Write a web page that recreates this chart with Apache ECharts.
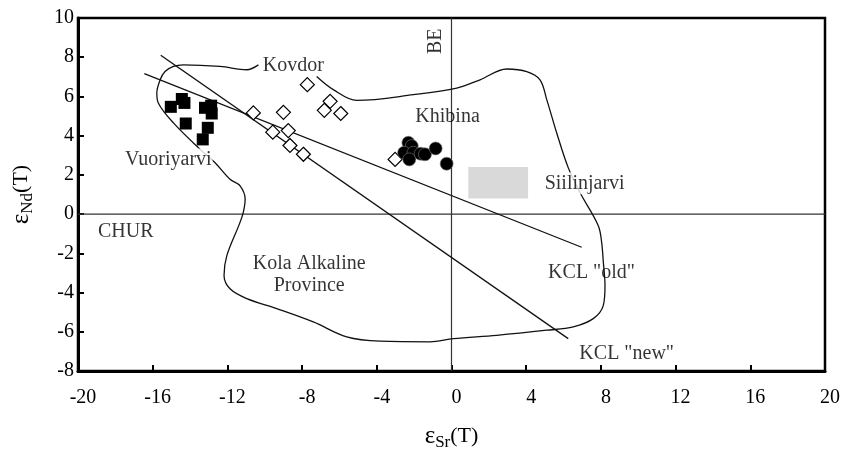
<!DOCTYPE html>
<html><head><meta charset="utf-8">
<script src="https://cdn.jsdelivr.net/npm/echarts@6/dist/echarts.min.js"></script>
<style>html,body{margin:0;padding:0;background:#fff}#c{width:843px;height:456px}</style>
</head><body><div id="c"></div>
<script>
// Vuoriyarvi (filled squares)
const vuorX = [-15.03, -14.44, -14.30, -14.23, -13.20, -12.87, -12.84, -13.05, -13.32];
const vuorY = [5.47, 5.87, 5.67, 4.62, 5.42, 5.53, 5.13, 4.40, 3.81];
// Kovdor (open diamonds)
const kovX = [-10.61, -9.00, -9.57, -8.74, -8.65, -7.93, -7.72, -6.50, -6.81, -5.93, -3.02];
const kovY = [5.16, 5.19, 4.18, 4.26, 3.50, 3.05, 6.60, 5.75, 5.29, 5.13, 2.79];
// Khibina (filled circles)
const khiX = [-2.31, -2.13, -2.54, -2.04, -2.26, -1.65, -1.42, -0.85, -0.26];
const khiY = [3.64, 3.47, 3.13, 3.13, 2.79, 3.08, 3.05, 3.35, 2.57];
// KCL regression lines
const kclOldX = [-16.45, 6.97];
const kclOldY = [7.16, -1.69];
const kclNewX = [-15.57, 6.25];
const kclNewY = [8.10, -6.35];
// Reference lines
const churX = [-20, 20];
const churY = [0, 0];
const beX = [0, 0];
const beY = [-8, 10];
// Siilinjarvi field
const siilX = [0.9, 4.1];
const siilY = [0.8, 2.4];
// Kola Alkaline Province outline
const kolaX = [-7.22, -6.33, -5.07, -2.04, 0.28, 1.53, 2.96, 4.03, 4.74, 5.10, 5.63, 6.25, 6.88, 7.86, 8.04, 8.13, 8.22, 8.13, 7.59, 6.52, 5.10, 2.42, 0.10, -1.15, -3.83, -5.61, -7.40, -9.36, -10.96, -11.86, -12.18, -12.03, -11.36, -11.15, -11.05, -11.32, -11.86, -12.66, -13.46, -14.89, -15.70, -15.78, -15.60, -15.34, -14.89, -14.36, -12.39, -10.96, -10.34];
const kolaY = [7.02, 6.35, 5.80, 6.09, 6.43, 6.85, 7.40, 7.27, 6.85, 5.84, 4.15, 2.37, 1.10, -0.59, -1.44, -2.45, -3.64, -4.65, -5.33, -5.75, -5.92, -6.18, -6.35, -6.51, -6.48, -6.26, -5.50, -4.82, -4.31, -3.81, -3.13, -2.12, -0.51, 0.09, 0.76, 1.44, 1.78, 2.62, 3.30, 4.65, 5.67, 6.18, 6.85, 7.27, 7.53, 7.61, 7.53, 7.36, 7.61];
// Text labels
const labelNames = ['Kovdor', 'Khibina', 'Vuoriyarvi', 'Siilinjarvi', 'CHUR', 'Kola Alkaline\nProvince', 'KCL "old"', 'KCL "new"', 'BE'];
const labelX = [-8.47, -0.21, -15.16, 7.13, -17.44, -7.62, 7.5, 9.38, -0.83];
const labelY = [7.59, 4.95, 2.79, 1.57, -0.89, -3.10, -3.0, -7.11, 8.81];
const xMin = -20, xMax = 20, xStep = 4;
const yMin = -8, yMax = 10, yStep = 2;

const pairs = (xs, ys) => xs.map((x, i) => [x, ys[i]]);
const FONT = '"Liberation Serif", "DejaVu Serif", serif';

const chart = echarts.init(document.getElementById('c'), null, {renderer: 'canvas'});
const axisTitleRich = {
  e: {fontFamily: FONT, fontSize: 25, color: '#000', lineHeight: 30, verticalAlign: 'middle'},
  s: {fontFamily: FONT, fontSize: 17, color: '#000', lineHeight: 17, verticalAlign: 'bottom'},
  t: {fontFamily: FONT, fontSize: 22, color: '#000', lineHeight: 30, verticalAlign: 'middle'}
};

const labelItems = labelNames.map((n, i) => {
  const item = {name: n, value: [labelX[i], labelY[i]]};
  if (n === 'BE') item.label = {rotate: 90};
  if (n === 'Vuoriyarvi' || n === 'Siilinjarvi') item.label = {backgroundColor: '#fff', padding: [0, 1]};
  return item;
});

chart.setOption({
  animation: false,
  backgroundColor: '#fff',
  grid: {left: 78, right: 18, top: 18, bottom: 83, show: true, borderColor: '#000', borderWidth: 2.5, backgroundColor: 'transparent'},
  xAxis: {
    type: 'value', min: xMin, max: xMax, interval: xStep,
    axisLine: {show: true, onZero: false, lineStyle: {color: '#000', width: 3}},
    axisTick: {show: true, inside: true, length: 6, lineStyle: {color: '#000', width: 2}},
    axisLabel: {color: '#000', fontFamily: FONT, fontSize: 20, margin: 17, padding: [0, 0, 0, 10]},
    splitLine: {show: false},
    name: '{e|ε}{s|Sr}{t|(T)}', nameLocation: 'middle', nameGap: 50,
    nameTextStyle: {rich: axisTitleRich}
  },
  yAxis: {
    type: 'value', min: yMin, max: yMax, interval: yStep,
    axisLine: {show: true, onZero: false, lineStyle: {color: '#000', width: 3}},
    axisTick: {show: true, inside: true, length: 6, lineStyle: {color: '#000', width: 2}},
    axisLabel: {color: '#000', fontFamily: FONT, fontSize: 20, margin: 4},
    splitLine: {show: false},
    name: '{e|ε}{s|Nd}{t|(T)}', nameLocation: 'middle', nameGap: 42, nameRotate: 90,
    nameTextStyle: {rich: axisTitleRich}
  },
  series: [
    {type: 'line', name: 'CHUR', data: pairs(churX, churY), showSymbol: false, silent: true,
     lineStyle: {color: '#333', width: 1.2}, z: 1,
     markArea: {silent: true, itemStyle: {color: '#d9d9d9'},
       data: [[{coord: [siilX[0], siilY[0]]}, {coord: [siilX[1], siilY[1]]}]]}},
    {type: 'line', name: 'BE', data: pairs(beX, beY), showSymbol: false, silent: true,
     lineStyle: {color: '#333', width: 1.2}, z: 1},
    {type: 'line', name: 'Kola', data: pairs(kolaX, kolaY), showSymbol: false, smooth: 0.35, silent: true,
     lineStyle: {color: '#111', width: 1.3}, z: 2},
    {type: 'line', name: 'KCL old', data: pairs(kclOldX, kclOldY), showSymbol: false, silent: true,
     lineStyle: {color: '#111', width: 1.3}, z: 2},
    {type: 'line', name: 'KCL new', data: pairs(kclNewX, kclNewY), showSymbol: false, silent: true,
     lineStyle: {color: '#111', width: 1.3}, z: 2},
    {type: 'scatter', name: 'Vuoriyarvi', data: pairs(vuorX, vuorY), symbol: 'rect', symbolSize: 12,
     itemStyle: {color: '#000', opacity: 1}, z: 3},
    {type: 'scatter', name: 'Kovdor', data: pairs(kovX, kovY), symbol: 'diamond', symbolSize: 14,
     itemStyle: {color: '#fff', borderColor: '#000', borderWidth: 1.2, opacity: 1}, z: 3},
    {type: 'scatter', name: 'Khibina', data: pairs(khiX, khiY), symbol: 'circle', symbolSize: 13,
     itemStyle: {color: '#000', borderColor: '#777', borderWidth: 0.6, opacity: 1}, z: 4},
    {type: 'scatter', name: 'labels', data: labelItems, symbolSize: 0, silent: true, z: 5,
     label: {show: true, position: 'inside', formatter: p => p.name, color: '#000',
       fontFamily: FONT, fontSize: 20, lineHeight: 22, align: 'center', verticalAlign: 'middle'}}
  ]
});
</script>
</body></html>
